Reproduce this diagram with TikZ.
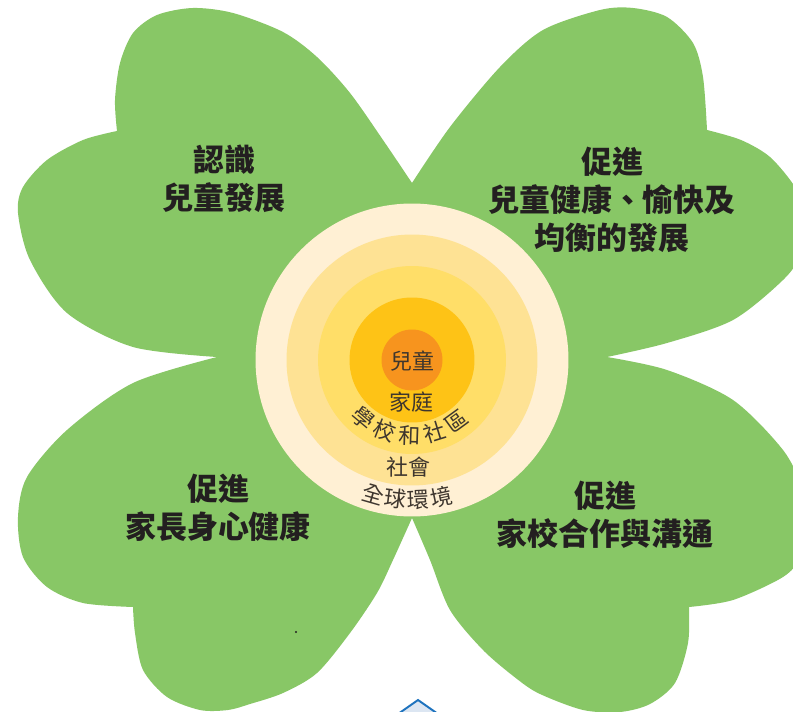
\documentclass[tikz,border=0pt]{standalone}
\usepackage{fontspec}
\setmainfont{Noto Sans CJK TC}
\usetikzlibrary{positioning, calc}
\definecolor{leafgreen}{RGB}{136,199,102}
\definecolor{ringone}{RGB}{255,240,212}
\definecolor{ringtwo}{RGB}{254,226,148}
\definecolor{ringthree}{RGB}{255,222,104}
\definecolor{ringfour}{RGB}{254,195,22}
\definecolor{corecolor}{RGB}{247,148,30}
\definecolor{inktext}{RGB}{35,31,32}
\definecolor{ringink}{RGB}{62,54,46}
\definecolor{markerblue}{RGB}{30,115,190}
\definecolor{markerfill}{RGB}{220,230,242}

\begin{document}
\begin{tikzpicture}[
        on grid,
        x = 0.02cm,
        y = -0.02cm,
        node distance = 0.76cm,
        leaf/.style = {fill = leafgreen},
        ring/.style = {circle, draw = none, inner sep = 0},
        leaftext/.style = {text = inktext, inner sep = 0, font = \fontsize{17.6}{21}\selectfont\bfseries},
        ringtext/.style = {text = ringink, inner sep = 0, font = \fontsize{12.5}{15}\selectfont},
        marker/.style = {draw = markerblue, fill = markerfill, line width = 1.1pt}]

      \useasboundingbox (0,0) rectangle (793,712);
      \clip (0,0) rectangle (793,712);
      \fill[white] (0,0) rectangle (793,712);

      %leaves, top-left
      \fill[leaf] (412,360) -- (217,357)
        -- plot[smooth] coordinates {(217,357) (133,347) (67,313) (30,260) (18,213) (23,187) (47,160) (83,140) (117,131)}
        -- plot[smooth] coordinates {(117,131) (115,100) (120,63) (133,33) (157,15) (193,8) (233,13) (283,32) (317,57) (350,93) (383,140) (412,183)}
        -- cycle;
      %top-right
      \fill[leaf] (412,360) -- (412,183)
        -- plot[smooth] coordinates {(412,183) (450,127) (500,67) (543,30) (600,10) (633,8) (667,17) (693,43) (703,77) (707,130)}
        -- plot[smooth] coordinates {(707,130) (741,140) (770,157) (795,187) (806,215) (800,255) (783,280) (733,320) (667,343) (607,357)}
        -- cycle;
      %bottom-left
      \fill[leaf] (412,360) -- (217,357)
        -- plot[smooth] coordinates {(217,357) (133,383) (67,430) (27,477) (18,517) (23,557) (47,587) (83,603) (133,607)}
        -- plot[smooth] coordinates {(133,607) (135,633) (143,670) (167,697) (200,710) (228,710) (250,704) (283,693) (317,673) (350,633) (377,593) (393,560) (412,518)}
        -- cycle;
      %bottom-right
      \fill[leaf] (412,360) -- (607,357)
        -- plot[smooth] coordinates {(607,357) (667,370) (733,400) (783,450) (803,490) (806,520) (800,557) (783,577) (733,600) (689,607)}
        -- plot[smooth] coordinates {(689,607) (688,643) (675,683) (650,704) (620,712) (583,710) (540,694) (517,679) (483,650) (450,610) (430,560) (412,518)}
        -- cycle;
      %hub between the notches
      \fill[leaf] (217,357) -- (412,183) -- (607,357) -- (412,518) -- cycle;

      %rings
      \node[ring, fill = ringone, minimum size = 6.26cm] (Ring1) at (412,360) {};
      \node[ring, fill = ringtwo, minimum size = 5.02cm] (Ring2) at (Ring1) {};
      \node[ring, fill = ringthree, minimum size = 3.76cm] (Ring3) at (Ring1) {};
      \node[ring, fill = ringfour, minimum size = 2.5cm] (Ring4) at (Ring1) {};
      \node[ring, fill = corecolor, minimum size = 1.22cm] (Core) at (Ring1) {};

      %ring labels
      \node[ringtext] (CoreLabel) at (412,361) {兒童};
      \node[ringtext] (Ring4Label) at (411,402) {家庭};
      \node[ringtext, rotate = -40] (Ring3Char1) at ($(Ring1)+(130:76)$) {學};
      \node[ringtext, rotate = -21] (Ring3Char2) at ($(Ring1)+(111:76)$) {校};
      \node[ringtext, rotate = -2] (Ring3Char3) at ($(Ring1)+(92:76)$) {和};
      \node[ringtext, rotate = 17] (Ring3Char4) at ($(Ring1)+(73:76)$) {社};
      \node[ringtext, rotate = 36] (Ring3Char5) at ($(Ring1)+(54:76)$) {區};
      \node[ringtext] (Ring2Label) at (408,467) {社會};
      \node[ringtext, rotate = -16] (Ring1Char1) at ($(Ring1)+(106:140)$) {全};
      \node[ringtext, rotate = -7] (Ring1Char2) at ($(Ring1)+(97:140)$) {球};
      \node[ringtext, rotate = 2.5] (Ring1Char3) at ($(Ring1)+(87.5:140)$) {環};
      \node[ringtext, rotate = 12] (Ring1Char4) at ($(Ring1)+(78:140)$) {境};

      %leaf labels
      \node[leaftext] (TLLine1) at (224,160) {認識};
      \node[leaftext] (TLLine2) [below = of TLLine1] {兒童發展};
      \node[leaftext] (TRLine1) at (612,162) {促進};
      \node[leaftext] (TRLine2) [below = of TRLine1] {兒童健康、愉快及};
      \node[leaftext] (TRLine3) [below = of TRLine2] {均衡的發展};
      \node[leaftext] (BLLine1) at (218,489) {促進};
      \node[leaftext] (BLLine2) [below = of BLLine1] {家長身心健康};
      \node[leaftext] (BRLine1) at (605,496) {促進};
      \node[leaftext] (BRLine2) [below = of BRLine1] {家校合作與溝通};

      %dot and marker
      \fill[inktext] (296,632) circle (1.2);
      \filldraw[marker] (418,700) -- (448,721) -- (418,742) -- (388,721) -- cycle;
    \end{tikzpicture}
\end{document}
